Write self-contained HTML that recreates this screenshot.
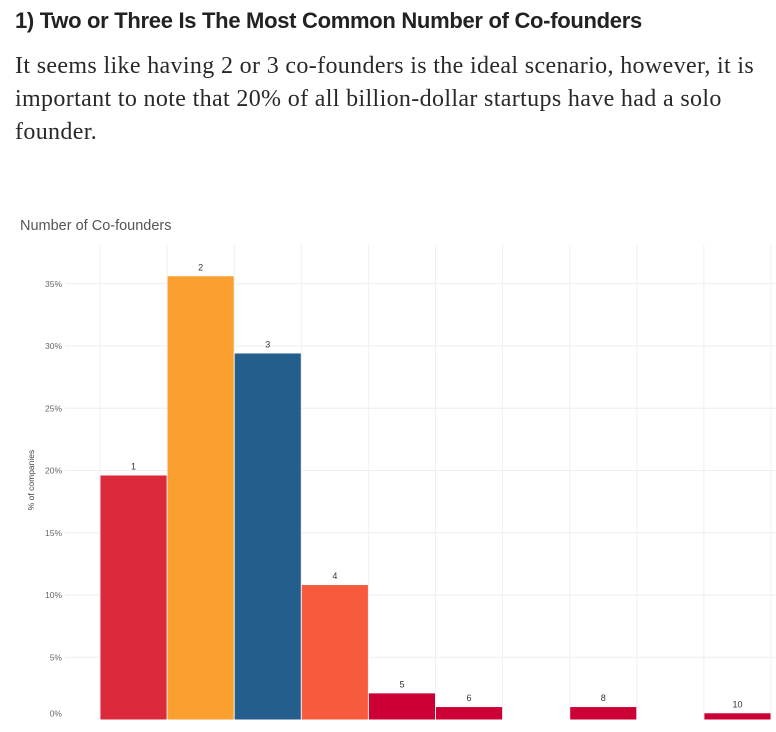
<!DOCTYPE html>
<html><head><meta charset="utf-8"><style>
body{margin:0;width:776px;height:732px;background:#fff;overflow:hidden;position:relative}
h1{position:absolute;left:15px;top:8px;margin:0;font:bold 22px "Liberation Sans",sans-serif;color:#222;letter-spacing:-0.3px;white-space:nowrap}
p{position:absolute;left:15px;top:50px;margin:0;width:760px;font:24px/33px "Liberation Serif",serif;color:#292929;white-space:nowrap;letter-spacing:0.35px}
svg{position:absolute;left:0;top:0}
</style></head><body>
<h1>1) Two or Three Is The Most Common Number of Co-founders</h1>
<p>It seems like having 2 or 3 co-founders is the ideal scenario, however, it is<br>important to note that 20% of all billion-dollar startups have had a solo<br>founder.</p>
<svg id="chart" width="776" height="732">
<text x="20" y="230" font-family="Liberation Sans,sans-serif" font-size="14.5" fill="#555">Number of Co-founders</text>
<text transform="translate(34,480) rotate(-90)" text-anchor="middle" font-family="Liberation Sans,sans-serif" font-size="8.5" fill="#444">% of companies</text>
</svg>
<script>
const categories=["1","2","3","4","5","6","7","8","9","10"];
const values=[19.6,35.6,29.4,10.8,2.1,1.0,0,1.0,0,0.5];
const colors=["#dc2a3c","#fb9f2e","#235e8c","#f85a3e","#cc0035","#cc0035","#cc0035","#cc0035","#cc0035","#cc0035"];
const yTicks=[0,5,10,15,20,25,30,35];
const yTickLabels=["0%","5%","10%","15%","20%","25%","30%","35%"];
const NS="http://www.w3.org/2000/svg";
const svg=document.getElementById('chart');
const x0=100,bw=67.1,base=719.5,k=12.45;
const y=v=>base-v*k;
const xs=i=>x0+i*bw;
function mk(t,a){const e=document.createElementNS(NS,t);for(const n in a)e.setAttribute(n,a[n]);svg.appendChild(e);return e;}
yTicks.forEach((t,i)=>{
 if(t>0){const g=mk('line',{x1:65,x2:776,y1:y(t),y2:y(t),stroke:'#eee','stroke-width':1});
 
 }
 const tx=mk('text',{x:62,y:(t===0?y(t)-3:y(t)+3),'text-anchor':'end','font-family':'Liberation Sans,sans-serif','font-size':'8.5',fill:'#666'});
 tx.textContent=yTickLabels[i];
 
 
});
for(let i=0;i<=categories.length;i++){
 const g=mk('line',{x1:xs(i),x2:xs(i),y1:245,y2:base,stroke:'#f0f0f0','stroke-width':1});
 
 
}
categories.forEach((c,i)=>{
 if(values[i]<=0)return;
 const r=mk('rect',{x:xs(i)+0.5,y:y(values[i]),width:bw-1,height:base-y(values[i]),fill:colors[i]});
 
 
 const t=mk('text',{x:xs(i)+bw/2,y:y(values[i])-6,'text-anchor':'middle','font-family':'Liberation Sans,sans-serif','font-size':'9',fill:'#333'});
 t.textContent=c;
 
 
});
</script>
</body></html>
